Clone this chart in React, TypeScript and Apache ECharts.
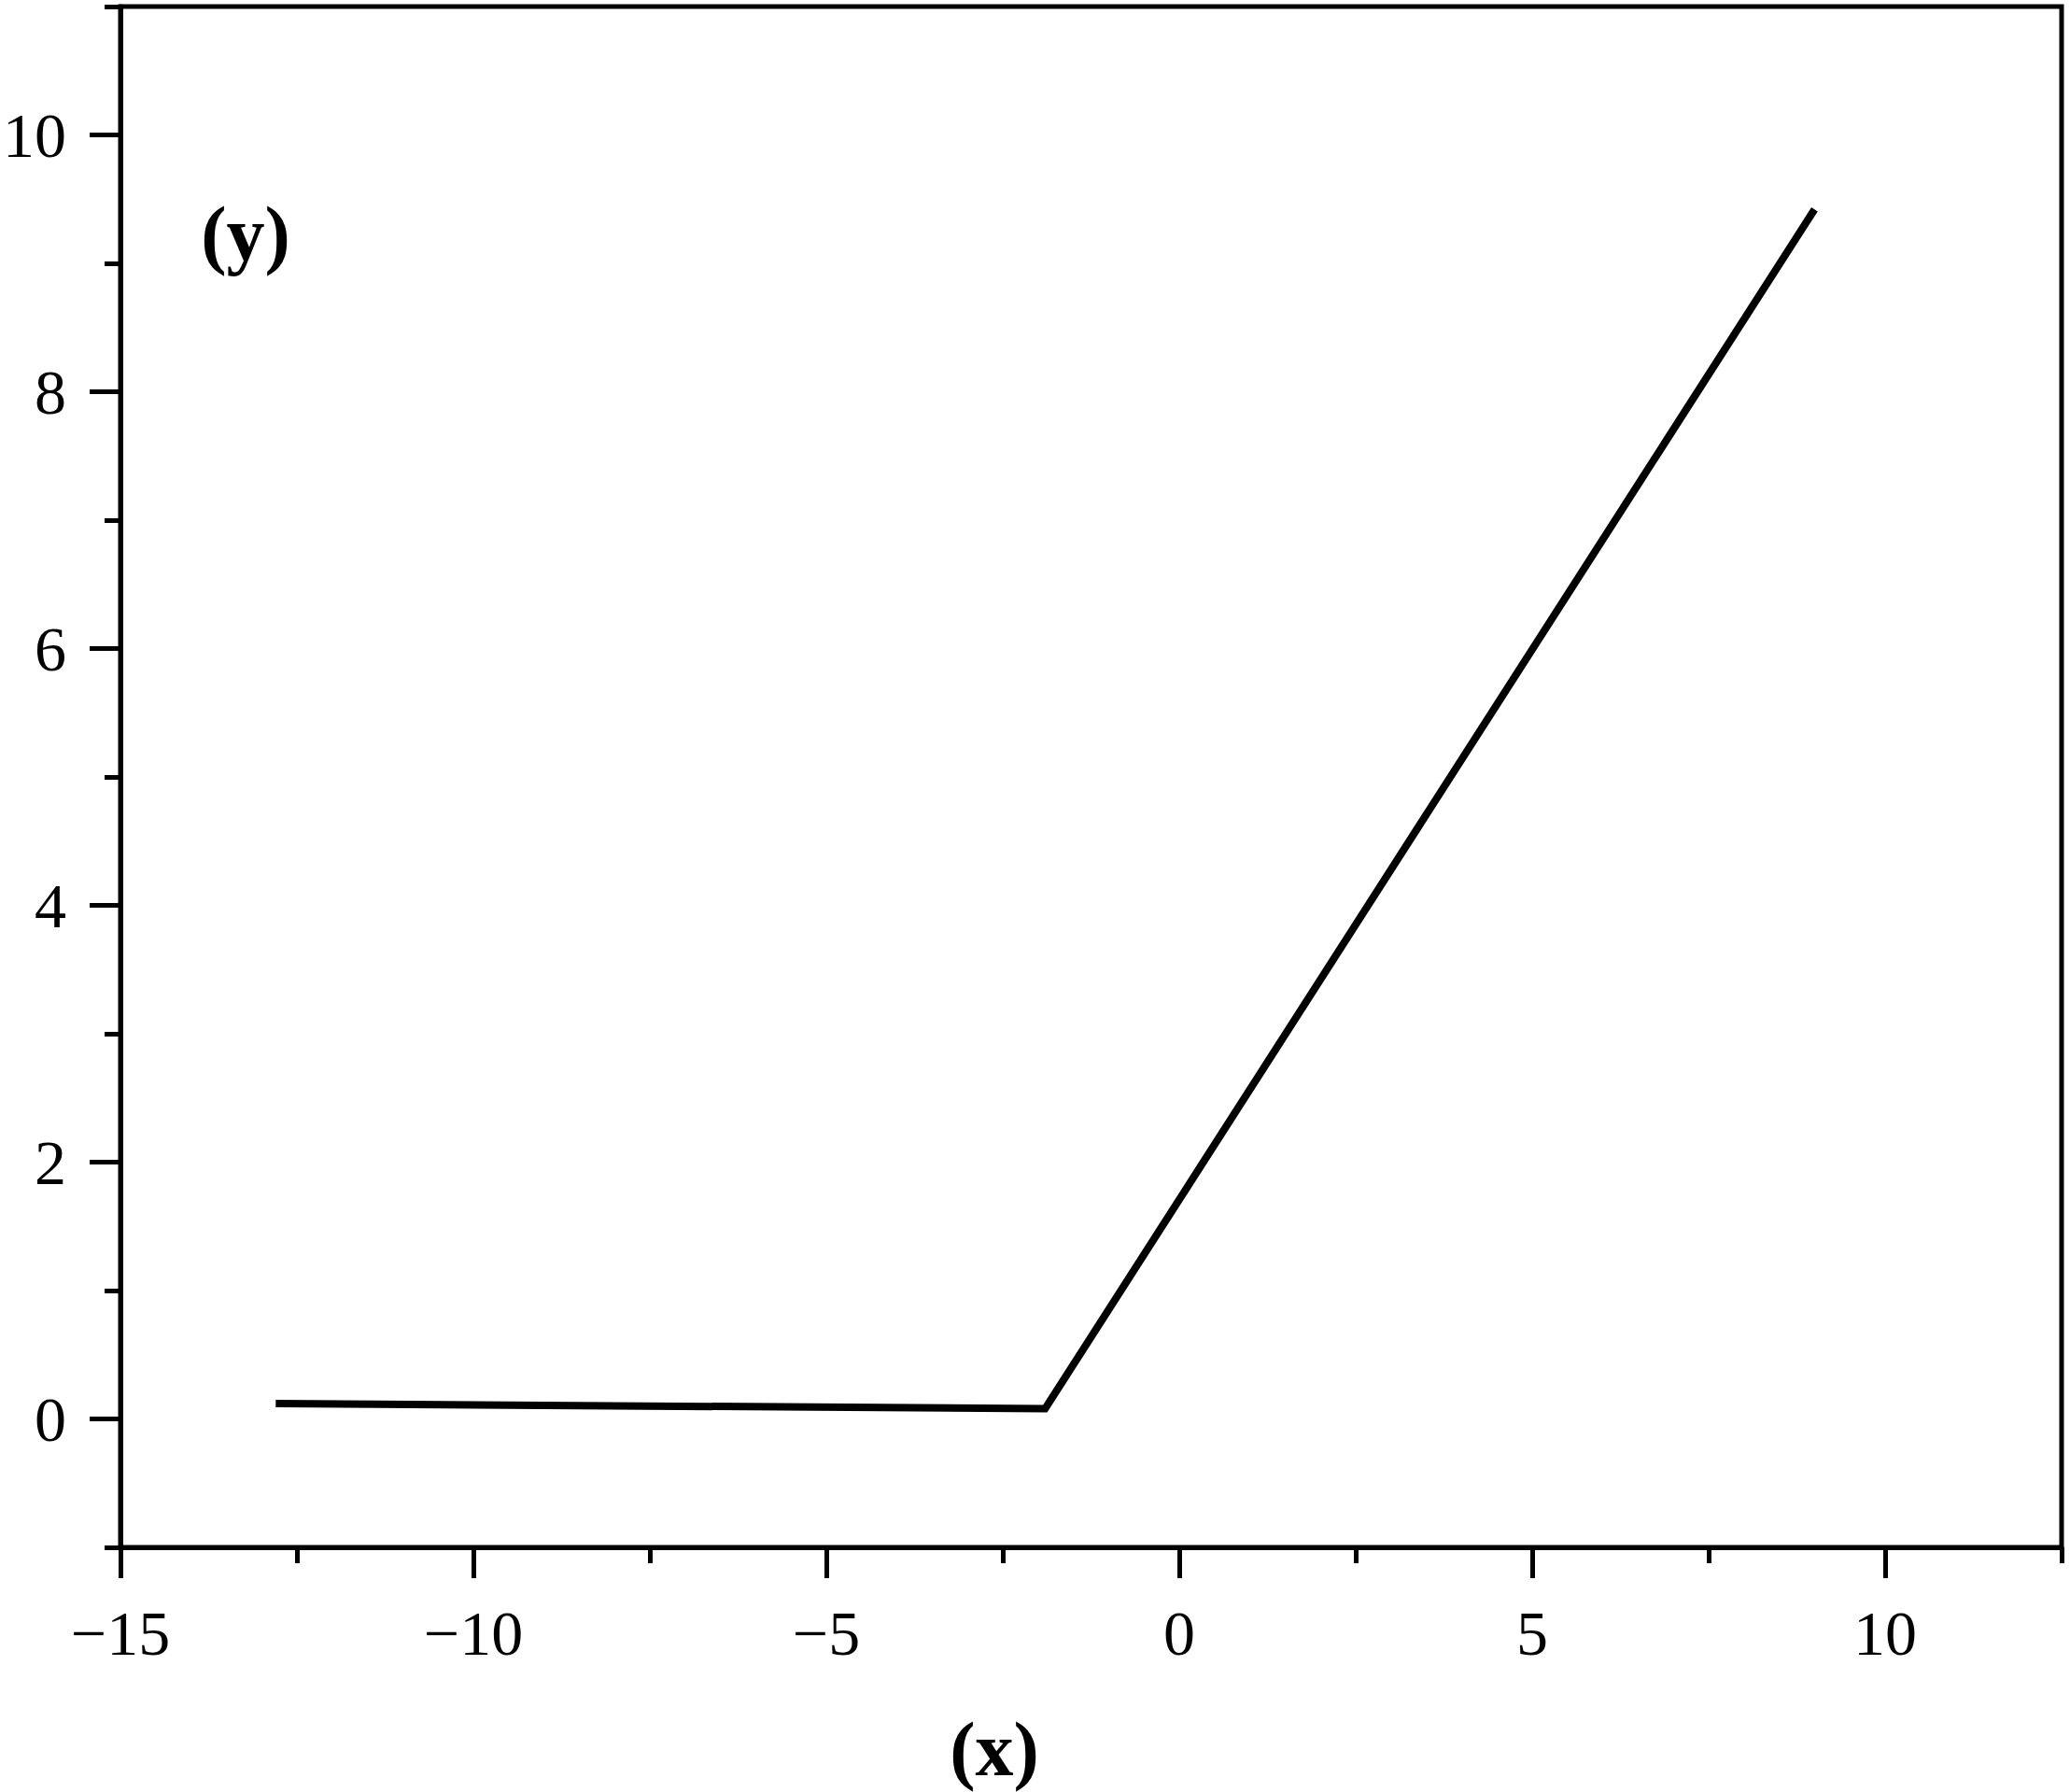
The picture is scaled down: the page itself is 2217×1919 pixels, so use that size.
import React, { useEffect, useRef } from "react";
import * as echarts from "echarts";

const xValues = [-12.8, -1.9, 9.0];
const yValues = [0.12, 0.08, 9.42];
const xMajorTicks = [-15, -10, -5, 0, 5, 10];
const xMinorTicks = [-12.5, -7.5, -2.5, 2.5, 7.5, 12.5];
const yMajorTicks = [0, 2, 4, 6, 8, 10];
const yMinorTicks = [-1, 1, 3, 5, 7, 9, 11];
const xName = "(x)";
const yName = "(y)";

const FONT = "'Liberation Serif', 'Times New Roman', serif";

function fmt(v: number): string {
  return v < 0 ? "\u2212" + Math.abs(v) : String(v);
}

export default function App() {
  const ref = useRef<HTMLDivElement>(null);
  useEffect(() => {
    if (!ref.current) return;
    const chart = echarts.init(ref.current, null, { renderer: "svg" });
    const lineStyle = { color: "#000", width: 5 };
    const labelStyle = {
      color: "#000",
      fontFamily: FONT,
      fontSize: 68,
      margin: 58,
      formatter: (v: number) => fmt(v),
    };
    chart.setOption({
      animation: false,
      backgroundColor: "#fff",
      grid: {
        left: 126,
        right: 9,
        top: 7,
        bottom: 262,
        show: true,
        borderColor: "#000",
        borderWidth: 5,
        backgroundColor: "transparent",
      },
      xAxis: [
        {
          type: "value",
          min: -15,
          max: 12.5,
          position: "bottom",
          axisLine: { show: true, onZero: false, lineStyle },
          axisTick: { show: true, length: 33, lineStyle, customValues: xMajorTicks },
          axisLabel: { ...labelStyle, customValues: xMajorTicks },
          splitLine: { show: false },
        },
        {
          type: "value",
          min: -15,
          max: 12.5,
          position: "bottom",
          axisLine: { show: false, onZero: false },
          axisTick: { show: true, length: 17, lineStyle, customValues: xMinorTicks },
          axisLabel: { show: false },
          splitLine: { show: false },
        },
      ],
      yAxis: [
        {
          type: "value",
          min: -1,
          max: 11,
          position: "left",
          axisLine: { show: true, onZero: false, lineStyle },
          axisTick: { show: true, length: 33, lineStyle, customValues: yMajorTicks },
          axisLabel: { ...labelStyle, customValues: yMajorTicks },
          splitLine: { show: false },
        },
        {
          type: "value",
          min: -1,
          max: 11,
          position: "left",
          axisLine: { show: false, onZero: false },
          axisTick: { show: true, length: 17, lineStyle, customValues: yMinorTicks },
          axisLabel: { show: false },
          splitLine: { show: false },
        },
      ],
      graphic: [
        {
          type: "text",
          x: 263,
          y: 250,
          style: {
            text: yName,
            fontFamily: FONT,
            fontWeight: "bold",
            fontSize: 82,
            fill: "#000",
            align: "center",
            verticalAlign: "middle",
          },
        },
        {
          type: "text",
          x: 1065,
          y: 1873,
          style: {
            text: xName,
            fontFamily: FONT,
            fontWeight: "bold",
            fontSize: 82,
            fill: "#000",
            align: "center",
            verticalAlign: "middle",
          },
        },
      ],
      series: [
        {
          type: "line",
          xAxisIndex: 0,
          yAxisIndex: 0,
          data: xValues.map((x, i) => [x, yValues[i]]),
          showSymbol: false,
          symbol: "none",
          lineStyle: { color: "#000", width: 8, join: "miter" },
        },
      ],
    });
    return () => chart.dispose();
  }, []);
  return (
    <div
      ref={ref}
      style={{ position: "absolute", left: 0, top: 0, width: 2217, height: 1919 }}
    />
  );
}
